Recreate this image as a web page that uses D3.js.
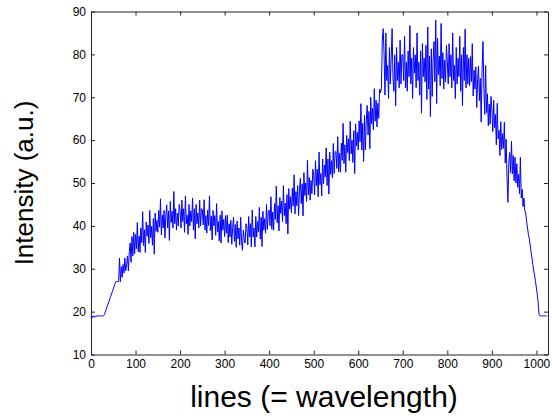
<!DOCTYPE html>
<html>
<head>
<meta charset="utf-8">
<script src="https://cdn.jsdelivr.net/npm/d3@7"></script>
<style>
  body { margin: 0; background: #fff; }
  svg { display: block; }
  .tick text { font-family: "Liberation Sans", Arial, sans-serif; font-size: 12px; fill: #000; }
  .tick line, .domain { stroke: #222; }
</style>
</head>
<body>
<div id="chart"></div>
<script>
const width = 552, height = 419
const margin = {top: 11.5, right: 4, bottom: 64.5, left: 91}

// intensity per detector line, one value every 2 lines (0..1024)
const lineStep = 2
const intensity = [
  18.5, 19, 18.6, 19, 19, 18.7, 19, 19, 19, 19, 19, 19, 19, 19, 19, 19.3, 19.9, 20.5, 21.1, 21.7, 22.3, 22.9, 23.5, 24.1, 24.7,
  25.3, 25.9, 26.5, 27, 27, 27, 27, 32.5, 27, 30.5, 28, 31, 29, 32.5, 29.5, 31, 33, 29.5, 34, 36, 31.5, 37.5, 33, 38.5, 33.5,
  38, 34.7, 40.8, 34, 37.6, 33.8, 39.5, 36.1, 43.3, 35.4, 39.1, 33.8, 40.9, 37.6, 40.2, 35.9, 43.6, 37.2, 39.9, 35.5, 41.7, 33.4, 43, 38.7, 41.3,
  38.5, 43.6, 39.7, 46.3, 37.9, 42.5, 39.5, 43.6, 37.2, 42.3, 44.9, 39.5, 43.5, 36.6, 45.7, 40.8, 43.4, 39.5, 48, 40.5, 44, 39, 43, 40, 45,
  43.5, 39.5, 46, 41, 44, 38.5, 47, 40.5, 42.5, 38, 45, 40, 43.5, 41, 46.5, 39, 44, 37, 45, 40.5, 43, 39.5, 46, 40, 44,
  43.8, 40.2, 46.1, 39, 42.4, 38.3, 43.7, 40.1, 47, 38.9, 42.3, 36.7, 43.6, 40, 42.4, 37.8, 45.2, 38.6, 41, 36.5, 42.5, 36, 43.5, 39, 41.5,
  37.5, 42.4, 38.3, 42.5, 36.1, 40.5, 37.4, 41.3, 35.7, 39.6, 42, 36.4, 40.3, 35, 41.1, 37, 39.5, 35.5, 42, 36.5, 34.3, 39, 37, 36, 40.5,
  39.5, 35.6, 42.2, 37.4, 40.5, 35.1, 43.7, 37.4, 39.5, 35.1, 42.2, 37.4, 41, 38.6, 44.3, 36.9, 42, 35.2, 43.4, 39, 41.7, 38.3, 45, 39.2, 43.4,
  43.7, 40, 46.8, 39.2, 43.2, 39, 45.2, 41.5, 49.3, 40.7, 44.7, 38.8, 46.6, 42.9, 45.8, 41, 49.4, 42.4, 45.3, 40.5, 47.3, 38.1, 48.7, 43.9, 46.8,
  43.1, 48.8, 44.6, 51.9, 42.8, 48, 44.7, 49.4, 42.4, 48.1, 51.1, 45.2, 49.8, 42.3, 52.4, 47.1, 50, 45.7, 55.3, 47.2, 51.3, 46, 50.6, 47.5, 53.2,
  51.8, 47.2, 55.2, 49.4, 53.2, 46.8, 57.2, 49.6, 52.2, 47, 55.6, 49.8, 54.2, 51.4, 58.2, 49.4, 55.6, 47.4, 57.2, 52, 55.2, 51.2, 59.2, 52.2, 57.2,
  57.4, 53.4, 60.8, 52.6, 57, 52.5, 59.3, 55.3, 63.9, 54.5, 58.9, 52.5, 61.1, 57.1, 60.3, 55.2, 64.4, 56.8, 60, 54.8, 62.2, 52.2, 63.8, 58.6, 61.8,
  57.7, 64.5, 59.6, 68.5, 57.7, 63.9, 55, 65.8, 57.7, 64.5, 68.1, 61.2, 66.7, 58, 70, 63.8, 67.4, 62.4, 72, 64.4, 69.3, 63.1, 68.6, 65.1, 71.9,
  71, 72.2, 83.3, 86, 79.9, 70.5, 85, 73.9, 77.4, 69.7, 81.6, 73.1, 79.1, 86, 74.5, 71.4, 79.9, 68, 81.6, 73.9, 78.2, 72.2, 83.3, 73.1, 79.9,
  79.9, 73.9, 84.2, 72.2, 78.2, 71.4, 80.8, 74.8, 86.7, 73.1, 79.1, 69.7, 81.6, 75.6, 79.9, 72.2, 85, 73.9, 78.2, 70.5, 80.8, 66.3, 82.5, 74.8, 79.1,
  73.6, 82.1, 69.5, 86.4, 71.9, 79.6, 65.5, 81.3, 70.2, 78.7, 83, 73.6, 88, 68.5, 83.8, 75.3, 79.6, 72.7, 87.2, 74.4, 80.4, 71.9, 78.7, 73.6, 82.1,
  78.2, 73.1, 82.5, 74.8, 79.9, 72.2, 85, 73.9, 77.4, 69.7, 81.6, 73.1, 79.1, 74.8, 84.2, 71.4, 79.9, 68, 81.6, 73.9, 85.9, 72.2, 79.9, 73.1, 79.1,
  72.7, 79.5, 73.6, 82.5, 70.3, 76.3, 71.9, 77.1, 67.6, 74.2, 77.3, 69.2, 74.4, 64.2, 76.4, 83, 72.1, 66, 77.4, 66.4, 70.8, 63.3, 68.4, 63.7, 70.2,
  67.3, 62, 69.3, 62.9, 66, 58.9, 68.6, 60.3, 62.3, 56.4, 64.3, 57.8, 61.5, 58.1, 64.2, 54.7, 60.2, 51.3, 45.5, 54.6, 57.1, 52.4, 59.7, 52.1, 56.4,
  50.5, 56, 50, 54.5, 49, 52, 47.5, 56, 46.5, 48.5, 44.5, 46.5, 43.5, 43, 41, 39.5, 38, 37, 35.5, 34, 32.5, 31, 29.5, 28.5, 27,
  25.5, 24, 22, 19.3, 19, 19, 19, 19, 19, 19, 19, 19, 19
]

const xTicks = [0, 100, 200, 300, 400, 500, 600, 700, 800, 900, 1000]
const yTicks = [10, 20, 30, 40, 50, 60, 70, 80, 90]
const xLabel = "lines (= wavelength)"
const yLabel = "Intensity (a.u.)"

const w = width - margin.left - margin.right
const h = height - margin.top - margin.bottom

const xScale = d3.scaleLinear().domain([0, 1026]).range([0, w])
const yScale = d3.scaleLinear().domain([10, 90]).range([h, 0])

const svg = d3.select("#chart").append("svg")
    .attr("width", width)
    .attr("height", height)

const g = svg.append("g")
    .attr("transform", "translate(" + margin.left + "," + margin.top + ")")

// frame with inward ticks, MATLAB style
g.append("g")
    .attr("transform", "translate(0," + h + ")")
    .call(d3.axisBottom(xScale).tickValues(xTicks).tickFormat(d3.format("d"))
        .tickSizeInner(-4).tickSizeOuter(0).tickPadding(5))
g.append("g")
    .call(d3.axisTop(xScale).tickValues(xTicks).tickSizeInner(-4).tickSizeOuter(0).tickFormat(""))
g.append("g")
    .call(d3.axisLeft(yScale).tickValues(yTicks).tickSizeInner(-4).tickSizeOuter(0).tickPadding(5))
g.append("g")
    .attr("transform", "translate(" + w + ",0)")
    .call(d3.axisRight(yScale).tickValues(yTicks).tickSizeInner(-4).tickSizeOuter(0).tickFormat(""))

const line = d3.line()
    .x((d, i) => xScale(i * lineStep))
    .y(d => yScale(d))

g.append("path")
    .datum(intensity)
    .attr("fill", "none")
    .attr("stroke", "#0000ff")
    .attr("stroke-width", 1)
    .attr("d", line)

svg.append("text")
    .attr("x", 324)
    .attr("y", 407)
    .attr("text-anchor", "middle")
    .style("font-family", "Liberation Sans, Arial, sans-serif")
    .style("font-size", "30px")
    .text(xLabel)

svg.append("text")
    .attr("transform", "translate(33,183) rotate(-90)")
    .attr("text-anchor", "middle")
    .style("font-family", "Liberation Sans, Arial, sans-serif")
    .style("font-size", "26px")
    .text(yLabel)
</script>
</body>
</html>
